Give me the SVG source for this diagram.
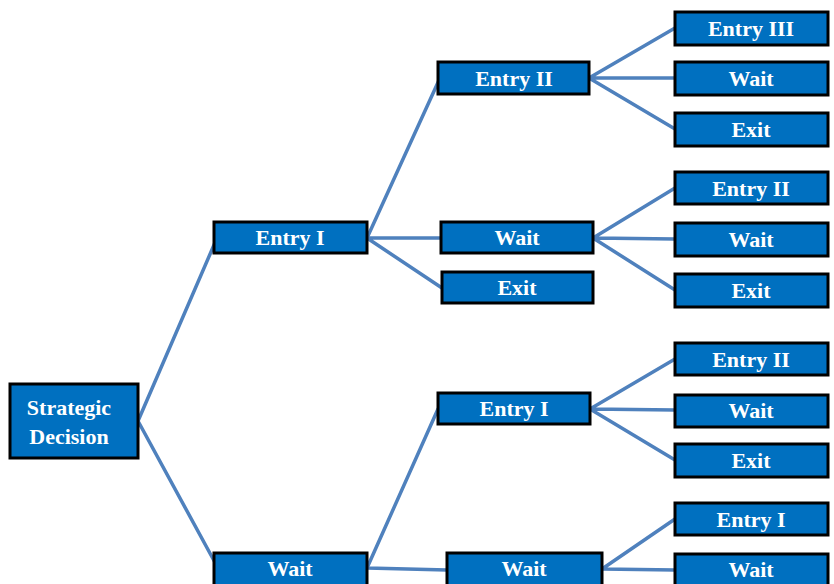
<svg xmlns="http://www.w3.org/2000/svg" width="834" height="584" viewBox="0 0 834 584">
<style>
.box{fill:#0070C0;stroke:#000;stroke-width:3}
.t{font-family:"Liberation Serif","Times New Roman",serif;font-weight:bold;font-size:22px;fill:#fff;text-anchor:middle}
.c{stroke:#4F81BD;stroke-width:3.5;fill:none;stroke-linecap:round}
</style>
<rect width="834" height="584" fill="#fff"/>
<g id="connectors">
<path class="c" d="M138,421 L217,238 M138,421 L218,568"/>
<path class="c" d="M367,238 L440,78 M367,238 L441,238 M367,238 L442,288"/>
<path class="c" d="M589,78 L675,28 M589,78 L675,78 M589,78 L675,129"/>
<path class="c" d="M593,238 L675,188 M593,238 L675,239 M593,238 L675,290"/>
<path class="c" d="M590,409 L675,359 M590,409 L675,410 M590,409 L675,460"/>
<path class="c" d="M367,568 L438,409 M367,568 L447,570"/>
<path class="c" d="M602,569 L675,519 M602,569 L675,570"/>
</g>
<g id="n-strategic"><rect class="box" x="10" y="384" width="128" height="74"/><text class="t" x="69" y="415">Strategic</text><text class="t" x="69" y="444">Decision</text></g>
<g id="n-entry1"><rect class="box" x="214" y="222" width="153" height="31"/><text class="t" x="290" y="245">Entry I</text></g>
<g id="n-wait1"><rect class="box" x="214" y="553" width="153" height="40"/><text class="t" x="290" y="576">Wait</text></g>
<g id="n-entry2a"><rect class="box" x="438" y="62" width="151" height="32"/><text class="t" x="514" y="86">Entry II</text></g>
<g id="n-wait2a"><rect class="box" x="441" y="222" width="152" height="31"/><text class="t" x="517" y="245">Wait</text></g>
<g id="n-exit2a"><rect class="box" x="442" y="272" width="151" height="31"/><text class="t" x="517" y="295">Exit</text></g>
<g id="n-entry1b"><rect class="box" x="438" y="393" width="152" height="31"/><text class="t" x="514" y="416">Entry I</text></g>
<g id="n-wait2b"><rect class="box" x="447" y="553" width="155" height="40"/><text class="t" x="524" y="576">Wait</text></g>
<g id="n-entry3"><rect class="box" x="675" y="12" width="153" height="33"/><text class="t" x="751" y="36">Entry III</text></g>
<g id="n-wait3a"><rect class="box" x="675" y="62" width="153" height="33"/><text class="t" x="751" y="86">Wait</text></g>
<g id="n-exit3a"><rect class="box" x="675" y="113" width="153" height="33"/><text class="t" x="751" y="137">Exit</text></g>
<g id="n-entry2b"><rect class="box" x="675" y="172" width="153" height="32"/><text class="t" x="751" y="196">Entry II</text></g>
<g id="n-wait3b"><rect class="box" x="675" y="223" width="153" height="33"/><text class="t" x="751" y="247">Wait</text></g>
<g id="n-exit3b"><rect class="box" x="675" y="274" width="153" height="33"/><text class="t" x="751" y="298">Exit</text></g>
<g id="n-entry2c"><rect class="box" x="675" y="343" width="153" height="32"/><text class="t" x="751" y="367">Entry II</text></g>
<g id="n-wait3c"><rect class="box" x="675" y="395" width="153" height="32"/><text class="t" x="751" y="418">Wait</text></g>
<g id="n-exit3c"><rect class="box" x="675" y="444" width="153" height="33"/><text class="t" x="751" y="468">Exit</text></g>
<g id="n-entry1c"><rect class="box" x="675" y="503" width="153" height="32"/><text class="t" x="751" y="527">Entry I</text></g>
<g id="n-wait3d"><rect class="box" x="675" y="554" width="153" height="40"/><text class="t" x="751" y="577">Wait</text></g>
</svg>
